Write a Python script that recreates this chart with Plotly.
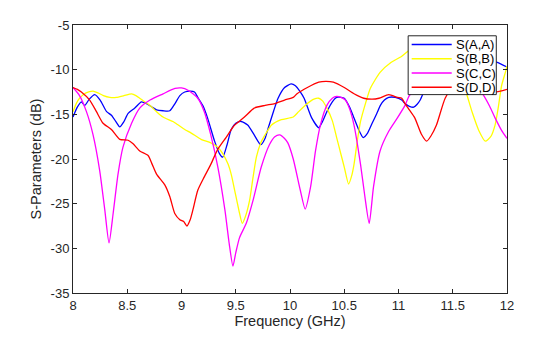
import plotly.graph_objects as go

# Reflection coefficients of the four ports, sampled in frequency (GHz) / magnitude (dB)
freq_aa = [8.00, 8.04, 8.077, 8.108, 8.15, 8.20, 8.25, 8.31, 8.354, 8.40, 8.431, 8.47, 8.508,
           8.57, 8.631, 8.677, 8.73, 8.77, 8.83, 8.892, 8.94, 8.985, 9.03, 9.08, 9.12, 9.15,
           9.20, 9.24, 9.305, 9.35, 9.38, 9.42, 9.458, 9.50, 9.55, 9.61, 9.67, 9.73, 9.77,
           9.80, 9.85, 9.89, 9.95, 10.01, 10.05, 10.09, 10.13, 10.20, 10.265, 10.30, 10.34,
           10.39, 10.43, 10.47, 10.50, 10.55, 10.59, 10.64, 10.675, 10.71, 10.757, 10.80,
           10.833, 10.87, 10.91, 10.97, 11.03, 11.06, 11.10, 11.14, 11.17, 11.20, 11.25,
           11.30, 11.40, 11.50, 11.60, 11.70, 11.80, 11.86, 11.95, 12.00]
s_aa = [-15.3, -14.2, -13.6, -14.0, -13.3, -12.8, -13.4, -14.7, -15.1, -15.9, -16.4, -15.8, -14.9,
        -14.3, -13.6, -13.8, -14.2, -14.5, -14.6, -14.6, -13.8, -12.9, -12.5, -12.4, -12.5, -13.1,
        -14.1, -15.4, -18.0, -19.4, -19.8, -18.4, -16.7, -16.0, -15.8, -16.2, -17.3, -18.4, -17.7,
        -16.5, -14.6, -13.2, -12.0, -11.6, -11.8, -12.4, -13.2, -15.4, -16.5, -15.8, -14.7,
        -13.6, -13.1, -13.1, -13.2, -14.2, -15.4, -16.9, -17.6, -17.2, -16.0, -14.9,
        -14.0, -13.4, -13.1, -13.1, -13.4, -13.8, -14.1, -14.2, -13.9, -13.4, -12.0,
        -11.0, -10.0, -9.5, -9.2, -9.0, -8.9, -9.0, -9.4, -9.7]

freq_bb = [8.00, 8.03, 8.06, 8.12, 8.185, 8.23, 8.28, 8.34, 8.40, 8.47, 8.54, 8.58, 8.615, 8.66,
           8.71, 8.77, 8.83, 8.88, 8.92, 8.97, 9.03, 9.09, 9.18, 9.27, 9.335, 9.38, 9.43, 9.46,
           9.49, 9.53, 9.56, 9.59, 9.628, 9.66, 9.69, 9.73, 9.77, 9.83, 9.92, 10.03, 10.08,
           10.16, 10.22, 10.265, 10.30, 10.34, 10.39, 10.43, 10.47, 10.50, 10.54, 10.57, 10.59,
           10.62, 10.65, 10.70, 10.74, 10.83, 10.93, 11.03, 11.09, 11.15, 11.25, 11.35, 11.45,
           11.55, 11.63, 11.68, 11.74, 11.80, 11.85, 11.89, 11.92, 11.95, 11.985, 12.00]
s_bb = [-14.7, -13.8, -13.2, -12.6, -12.4, -12.6, -12.9, -13.1, -13.1, -12.9, -12.7, -12.9, -13.2, -13.6,
        -14.0, -14.7, -15.3, -15.6, -15.8, -16.2, -16.7, -17.1, -17.8, -18.2, -18.7, -19.4, -20.6, -21.8,
        -23.5, -25.8, -27.2, -26.4, -24.6, -22.0, -19.8, -18.2, -17.3, -16.2, -15.6, -15.3, -14.7,
        -13.8, -13.3, -13.2, -13.5, -14.3, -15.7, -17.6, -19.5, -20.9, -22.8, -21.8, -20.6,
        -18.0, -15.8, -13.6, -12.1, -10.3, -9.2, -8.5, -7.9, -7.4, -7.0, -7.2, -8.2,
        -10.0, -12.8, -14.8, -16.8, -18.0, -17.5, -16.2, -14.2, -11.8, -10.3, -9.6]

freq_cc = [8.00, 8.06, 8.124, 8.185, 8.246, 8.293, 8.332, 8.37, 8.415, 8.46, 8.54, 8.615, 8.71,
           8.83, 8.94, 9.00, 9.06, 9.15, 9.21, 9.27, 9.335, 9.40, 9.44, 9.474, 9.50, 9.535, 9.597,
           9.66, 9.735, 9.81, 9.86, 9.905, 9.95, 9.98, 10.03, 10.095, 10.14, 10.19, 10.235, 10.28,
           10.34, 10.39, 10.43, 10.47, 10.51, 10.55, 10.59, 10.65, 10.69, 10.73, 10.77, 10.83,
           10.91, 10.99, 11.06, 11.10, 11.20, 11.30, 11.40, 11.50, 11.60, 11.70, 11.78, 11.84,
           11.89, 11.95, 12.00]
s_cc = [-12.0, -12.9, -14.7, -17.3, -21.3, -25.7, -29.4, -26.1, -21.7, -18.7, -16.0, -14.3, -13.4,
        -12.7, -12.1, -12.05, -12.3, -13.2, -14.7, -17.3, -20.9, -25.7, -29.5, -32.0, -30.5, -28.8, -27.2,
        -24.6, -20.9, -18.4, -17.5, -17.3, -17.7, -18.2, -20.0, -23.5, -25.6, -23.1, -19.1, -16.2,
        -14.0, -13.2, -13.0, -13.1, -13.4, -14.4, -16.2, -20.6, -24.2, -27.2, -23.1, -19.1,
        -16.9, -15.4, -14.0, -12.9, -11.8, -10.8, -10.3, -10.2, -10.6, -11.5, -12.8, -14.1,
        -15.4, -16.8, -17.7]

freq_dd = [8.00, 8.04, 8.077, 8.154, 8.216, 8.277, 8.354, 8.431, 8.508, 8.554, 8.615, 8.692, 8.73,
           8.77, 8.846, 8.892, 8.938, 8.985, 9.02, 9.05, 9.08, 9.105, 9.15, 9.21, 9.27, 9.335, 9.41,
           9.49, 9.58, 9.67, 9.77, 9.86, 9.95, 10.03, 10.065, 10.16, 10.265, 10.33, 10.40, 10.50,
           10.59, 10.68, 10.757, 10.82, 10.91, 10.99, 11.03, 11.06, 11.10, 11.15, 11.21, 11.26,
           11.30, 11.35, 11.43, 11.50, 11.60, 11.70, 11.80, 11.89, 12.00]
s_dd = [-12.0, -12.2, -12.5, -13.4, -14.7, -16.0, -16.7, -17.8, -17.9, -18.3, -19.1, -19.6, -20.6,
        -21.7, -22.9, -24.2, -26.1, -26.8, -27.0, -27.5, -26.8, -25.7, -23.5, -22.0, -20.6, -18.9, -17.6,
        -16.2, -15.3, -14.3, -14.0, -13.8, -13.4, -13.1, -12.7, -12.0, -11.4, -11.3, -11.4, -12.0,
        -12.7, -13.2, -13.3, -13.2, -12.8, -13.1, -13.2, -13.8, -14.5, -15.4, -17.2, -18.0,
        -17.4, -16.2, -13.2, -12.0, -11.5, -11.6, -12.2, -12.5, -12.2]

series_names = ["S(A,A)", "S(B,B)", "S(C,C)", "S(D,D)"]
series_colors = ["#0000FF", "#FFFF00", "#FF00FF", "#FF0000"]

x_ticks = [8, 8.5, 9, 9.5, 10, 10.5, 11, 11.5, 12]
x_tick_text = ["8", "8.5", "9", "9.5", "10", "10.5", "11", "11.5", "12"]
y_ticks = [-35, -30, -25, -20, -15, -10, -5]
y_tick_text = ["-35", "-30", "-25", "-20", "-15", "-10", "-5"]

# Figure geometry (pixels)
W, H = 560, 337
M_L, M_R, M_T, M_B = 73.3, 53.3, 25, 38.7
PLOT_W = W - M_L - M_R
PLOT_H = H - M_T - M_B

axis_color = "#262626"
font_family = "Liberation Sans, Arial, sans-serif"


def px_x(px):
    """Horizontal pixel position -> paper coordinate of the plot area."""
    return (px - M_L) / PLOT_W


def px_y(py):
    """Vertical pixel position (from top) -> paper coordinate of the plot area."""
    return 1 - (py - M_T) / PLOT_H


fig = go.Figure()
for name, color, fx, fy in zip(series_names, series_colors,
                               [freq_aa, freq_bb, freq_cc, freq_dd],
                               [s_aa, s_bb, s_cc, s_dd]):
    fig.add_trace(go.Scatter(x=fx, y=fy, mode="lines", name=name, showlegend=False,
                             line=dict(color=color, width=1.3, shape="spline", smoothing=0.6)))

# Boxed legend in the upper right, drawn above the curves
LEG_LEFT, LEG_RIGHT, LEG_TOP, LEG_BOTTOM = 408, 496, 36, 96
ROW0, ROW_STEP = 45, 14.5
SAMPLE_X0, SAMPLE_X1, TEXT_X = 411.5, 451.5, 453.5

shapes = [dict(type="rect", xref="paper", yref="paper", layer="above",
               x0=px_x(LEG_LEFT), x1=px_x(LEG_RIGHT), y0=px_y(LEG_BOTTOM), y1=px_y(LEG_TOP),
               fillcolor="white", line=dict(color=axis_color, width=1))]
annotations = []
for i, (name, color) in enumerate(zip(series_names, series_colors)):
    row_y = px_y(ROW0 + i * ROW_STEP)
    shapes.append(dict(type="line", xref="paper", yref="paper", layer="above",
                       x0=px_x(SAMPLE_X0), x1=px_x(SAMPLE_X1), y0=row_y, y1=row_y,
                       line=dict(color=color, width=1.5)))
    annotations.append(dict(xref="paper", yref="paper", x=px_x(TEXT_X), y=row_y,
                            xanchor="left", yanchor="middle", showarrow=False, text=name,
                            font=dict(family=font_family, size=13, color="black")))

axis_common = dict(
    showline=True, linecolor=axis_color, linewidth=1, mirror="allticks",
    ticks="inside", ticklen=4, tickcolor=axis_color, showgrid=False, zeroline=False,
    tickfont=dict(family=font_family, size=13, color=axis_color),
)

fig.update_layout(
    width=W, height=H,
    margin=dict(l=M_L, r=M_R, t=M_T, b=M_B),
    paper_bgcolor="white", plot_bgcolor="white",
    font=dict(family=font_family, color=axis_color),
    xaxis=dict(range=[8, 12], tickvals=x_ticks, ticktext=x_tick_text,
               title=dict(text="Frequency (GHz)", font=dict(size=14.5, color=axis_color), standoff=2),
               **axis_common),
    yaxis=dict(range=[-35, -5], tickvals=y_ticks, ticktext=y_tick_text,
               title=dict(text="S-Parameters (dB)", font=dict(size=14.5, color=axis_color), standoff=5),
               **axis_common),
    shapes=shapes,
    annotations=annotations,
    showlegend=False,
)

fig.write_html("out.html")
